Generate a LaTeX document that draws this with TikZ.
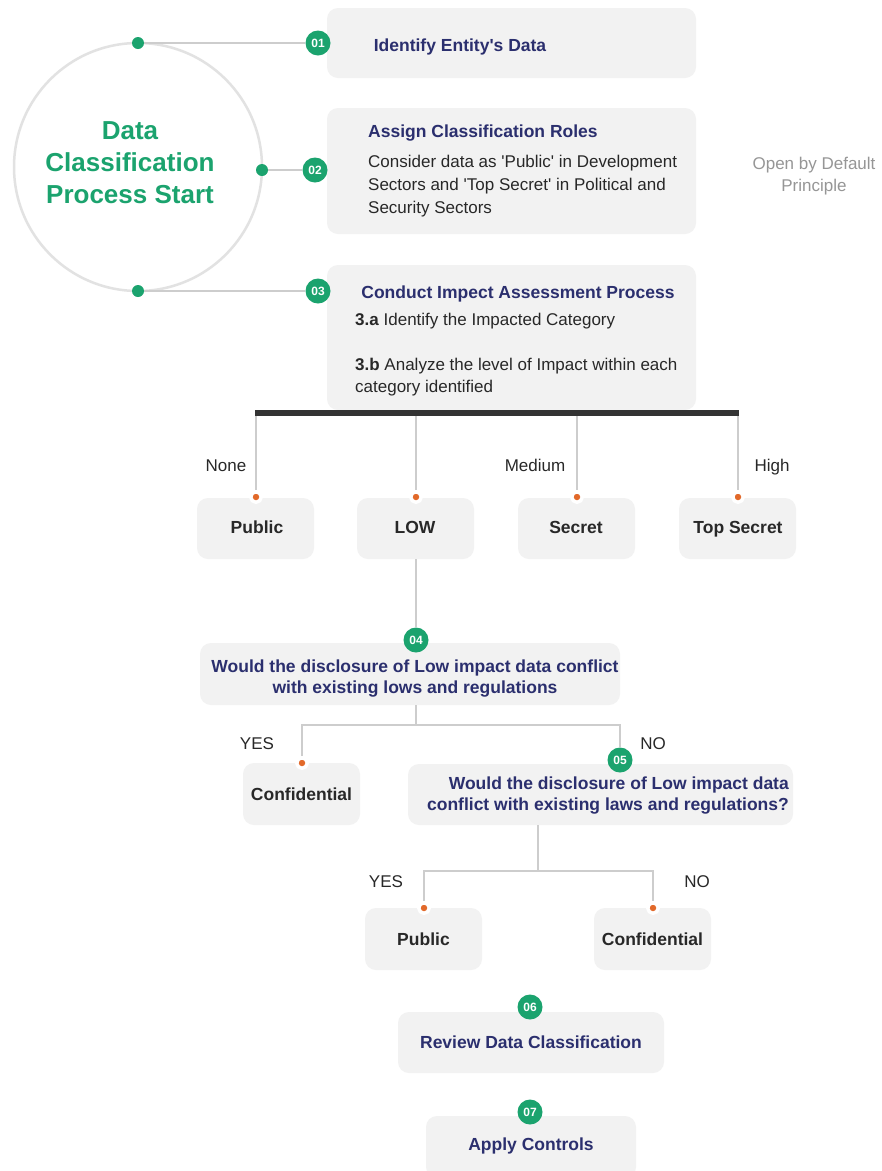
\documentclass[tikz,border=0pt]{standalone}
\usepackage{fontspec}
\setmainfont{Liberation Sans}
\definecolor{dgreen}{RGB}{27,163,110}
\definecolor{navy}{RGB}{43,47,110}
\definecolor{boxgray}{RGB}{242,242,242}
\definecolor{ringgray}{RGB}{226,226,226}
\definecolor{linegray}{RGB}{205,205,205}
\definecolor{dorange}{RGB}{226,105,42}
\definecolor{barc}{RGB}{51,51,51}
\definecolor{txt}{RGB}{40,40,40}
\definecolor{softgray}{RGB}{150,150,150}
\newcommand{\sq}{\textquotesingle}
\begin{document}
\begin{tikzpicture}[x=1pt,y=-1pt,
  box/.style={fill=boxgray, rounded corners=11pt, inner sep=0pt},
  badge/.style={circle, fill=dgreen, text=white, font=\fontsize{12}{12}\selectfont\bfseries, inner sep=0pt, minimum size=25pt},
  gdot/.style={circle, fill=dgreen, inner sep=0pt, minimum size=12pt},
  odot/.style={circle, fill=dorange, draw=white, line width=3.5pt, inner sep=0pt, minimum size=10.5pt},
  conn/.style={draw=linegray, line width=1.3pt},
  ttl/.style={text=navy, font=\fontsize{17.5}{21}\selectfont\bfseries, inner sep=0pt},
  body/.style={text=txt, font=\fontsize{17}{23}\selectfont, inner sep=0pt, align=left},
  cls/.style={text=txt, font=\fontsize{17.5}{21}\selectfont\bfseries, inner sep=0pt, text height=12.6pt, text depth=0pt},
  lbl/.style={text=txt, font=\fontsize{17}{20}\selectfont, inner sep=0pt, text height=12.2pt, text depth=0pt}
]
\useasboundingbox (0,0) rectangle (882,1171);
\fill[white] (0,0) rectangle (882,1171);

% start circle
\node[circle, draw=ringgray, line width=2.5pt, minimum size=248pt, inner sep=0pt] (start) at (138,167) {};
\node[text=dgreen, font=\fontsize{26}{32}\selectfont\bfseries, align=center, inner sep=0pt] (starttxt) at (130,163) {Data\\Classification\\Process Start};
\node[gdot] (d1) at (138,43) {};
\node[gdot] (d2) at (262,170) {};
\node[gdot] (d3) at (138,291) {};

% step boxes
\node[box, minimum width=369pt, minimum height=70pt] (box1) at (511.5,43) {};
\node[box, minimum width=369pt, minimum height=126pt] (box2) at (511.5,171) {};
\node[box, minimum width=369pt, minimum height=145pt] (box3) at (511.5,337.5) {};

\node[badge] (b1) at (318,43) {01};
\node[badge] (b2) at (315,170) {02};
\node[badge] (b3) at (318,291) {03};
\draw[conn] (d1) -- (b1);
\draw[conn] (d2) -- (b2);
\draw[conn] (d3) -- (b3);

\node[ttl] (t1) at (460,47) {Identify Entity\sq s Data};
\node[ttl, anchor=west] (t2) at (368,133) {Assign Classification Roles};
\node[body, anchor=west] (t2b) at (368,186) {Consider data as \sq Public\sq\ in Development\\Sectors and \sq Top Secret\sq\ in Political and\\Security Sectors};
\node[text=softgray, font=\fontsize{17}{22}\selectfont, align=center, inner sep=0pt] (odp) at (814,176) {Open by Default\\Principle};
\node[ttl] (t3) at (518,294) {Conduct Impect Assessment Process};
\node[body, anchor=west] (t3a) at (355,321) {\textbf{3.a} Identify the Impacted Category};
\node[body, anchor=west, font=\fontsize{17}{22}\selectfont] (t3b) at (355,377) {\textbf{3.b} Analyze the level of Impact within each\\category identified};

% bar and categories
\coordinate (barL) at (255,413);
\coordinate (barR) at (739,413);
\draw[barc, line width=6pt] (barL) -- (barR);
\foreach \n/\x in {c1/256, c2/416, c3/577, c4/738}{
  \coordinate (\n top) at (\x,416);
}
\node[box, minimum width=117pt, minimum height=61pt] (pub) at (255.5,528.5) {};
\node[box, minimum width=117pt, minimum height=61pt] (low) at (415.5,528.5) {};
\node[box, minimum width=117pt, minimum height=61pt] (sec) at (576.5,528.5) {};
\node[box, minimum width=117pt, minimum height=61pt] (tsec) at (737.5,528.5) {};
\node[cls] (pubt) at (257,527) {Public};
\node[cls] (lowt) at (415,527) {LOW};
\node[cls] (sect) at (576,527) {Secret};
\node[cls] (tsect) at (738,527) {Top Secret};
\node[odot] (o1) at (256,497) {};
\node[odot] (o2) at (416,497) {};
\node[odot] (o3) at (577,497) {};
\node[odot] (o4) at (738,497) {};
\draw[conn] (c1top) -- (o1);
\draw[conn] (c2top) -- (o2);
\draw[conn] (c3top) -- (o3);
\draw[conn] (c4top) -- (o4);
\node[lbl] (lnone) at (226,465) {None};
\node[lbl] (lmed) at (535,465) {Medium};
\node[lbl] (lhigh) at (772,465) {High};

% step 4
\node[box, minimum width=420pt, minimum height=62pt] (box4) at (410,674) {};
\node[badge] (b4) at (416,640) {04};
\draw[conn] (low.south -| b4) -- (b4);
\node[ttl, align=center] (t4) at (415,679) {Would the disclosure of Low impact data conflict\\with existing lows and regulations};
\coordinate (j4) at (416,725);

\node[box, minimum width=117pt, minimum height=62pt] (conf1) at (301.5,794) {};
\node[cls] (conf1t) at (301.5,794) {Confidential};
\node[odot] (o5) at (302,763) {};

\node[box, minimum width=385pt, minimum height=61pt] (box5) at (600.5,794.5) {};
\node[badge] (b5) at (620,760) {05};
\node[ttl, align=right, anchor=east] (t5) at (789,796) {Would the disclosure of Low impact data\\conflict with existing laws and regulations?};

\draw[conn] (box4.south -| j4) -- (j4);
\draw[conn] (o5) |- (j4) -| (b5);
\node[lbl] (lyes1) at (257,743) {YES};
\node[lbl] (lno1) at (653,743) {NO};

% step 5 outcomes
\coordinate (j5t) at (538,825);
\coordinate (j5) at (538,871);
\node[box, minimum width=117pt, minimum height=62pt] (pub2) at (423.5,939) {};
\node[box, minimum width=117pt, minimum height=62pt] (conf2) at (652.5,939) {};
\node[cls] (pub2t) at (423.5,939) {Public};
\node[cls] (conf2t) at (652.5,939) {Confidential};
\node[odot] (o6) at (424,908) {};
\node[odot] (o7) at (653,908) {};
\draw[conn] (j5t) -- (j5);
\draw[conn] (o6) |- (j5) -| (o7);
\node[lbl] (lyes2) at (386,881) {YES};
\node[lbl] (lno2) at (697,881) {NO};

% steps 6 and 7
\node[box, minimum width=266pt, minimum height=61pt] (box6) at (531,1042.5) {};
\node[badge] (b6) at (530,1007) {06};
\node[ttl] (t6) at (531,1042) {Review Data Classification};
\node[box, minimum width=210pt, minimum height=62pt] (box7) at (531,1147) {};
\node[badge] (b7) at (530,1112) {07};
\node[ttl] (t7) at (531,1146) {Apply Controls};
\end{tikzpicture}
\end{document}
